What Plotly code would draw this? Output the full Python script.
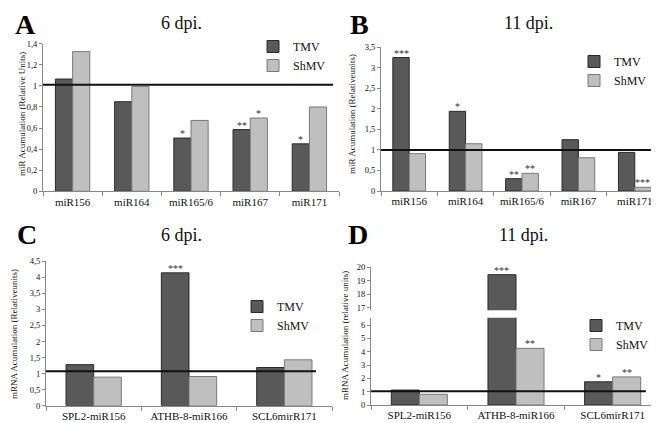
import plotly.graph_objects as go

# ---------------- data ----------------
mir_categories = ["miR156", "miR164", "miR165/6", "miR167", "miR171"]
mrna_categories = ["SPL2-miR156", "ATHB-8-miR166", "SCL6mirR171"]

a_tmv = [1.065, 0.85, 0.505, 0.585, 0.45]
a_shmv = [1.325, 0.995, 0.672, 0.695, 0.80]
a_tmv_sig = ["", "", "*", "**", "*"]
a_shmv_sig = ["", "", "", "*", ""]

b_tmv = [3.25, 1.94, 0.30, 1.25, 0.94]
b_shmv = [0.91, 1.15, 0.43, 0.81, 0.09]
b_tmv_sig = ["***", "*", "**", "", ""]
b_shmv_sig = ["", "", "**", "", "***"]

c_tmv = [1.28, 4.14, 1.19]
c_shmv = [0.89, 0.91, 1.43]
c_tmv_sig = ["", "***", ""]
c_shmv_sig = ["", "", ""]

d_tmv = [1.12, 19.45, 1.74]
d_shmv = [0.80, 4.25, 2.11]
d_tmv_sig = ["", "***", "*"]
d_shmv_sig = ["", "**", "**"]

ref_levels = [1.01, 1.0, 1.07, 1.04]

a_ticks = [0, 0.2, 0.4, 0.6, 0.8, 1.0, 1.2, 1.4]
a_ticktext = ["0", "0,2", "0,4", "0,6", "0,8", "1", "1,2", "1,4"]
b_ticks = [0, 0.5, 1, 1.5, 2, 2.5, 3, 3.5]
b_ticktext = ["0", "0,5", "1", "1,5", "2", "2,5", "3", "3,5"]
c_ticks = [0, 0.5, 1, 1.5, 2, 2.5, 3, 3.5, 4, 4.5]
c_ticktext = ["0", "0,5", "1", "1,5", "2", "2,5", "3", "3,5", "4", "4,5"]
d_low_ticks = [0, 1, 2, 3, 4, 5, 6]
d_high_ticks = [17, 18, 19, 20]

panel_letters = ["A", "B", "C", "D"]
panel_titles = ["6 dpi.", "11 dpi.", "6 dpi.", "11 dpi."]
y_titles = ["miR Acumulation (Relative Units)", "miR Acumulation (Relativeunits)",
            "mRNA Acumulation (Relativeunits)", "mRNA Acumulation (relative units)"]

# ---------------- style ----------------
W, H = 659, 423
FONT = "Liberation Serif"
DARK = "#595959"
LIGHT = "#bfbfbf"
AXC = "#868686"
BARGAP = 0.42


def px(x):
    return x / W


def py(y):
    return 1 - y / H


fig = go.Figure()


def add_pair(cats, tmv, shmv, xa, ya, legend, showlegend=True):
    fig.add_trace(go.Bar(
        x=cats, y=tmv, name="TMV", marker=dict(color=DARK, line=dict(color="#2a2a2a", width=1)),
        xaxis=xa, yaxis=ya, legend=legend, showlegend=showlegend))
    fig.add_trace(go.Bar(
        x=cats, y=shmv, name="ShMV", marker=dict(color=LIGHT, line=dict(color="#7a7a7a", width=1)),
        xaxis=xa, yaxis=ya, legend=legend, showlegend=showlegend))


add_pair(mir_categories, a_tmv, a_shmv, "x", "y", "legend")
add_pair(mir_categories, b_tmv, b_shmv, "x2", "y2", "legend2")
add_pair(mrna_categories, c_tmv, c_shmv, "x3", "y3", "legend3")
add_pair(mrna_categories, d_tmv, d_shmv, "x4", "y4", "legend4")
add_pair(mrna_categories, d_tmv, d_shmv, "x5", "y5", "legend4", showlegend=False)

xbase = dict(type="category", showline=True, linecolor=AXC, linewidth=1, ticks="outside",
             tickson="boundaries", ticklen=4, tickcolor=AXC, showgrid=False, zeroline=False,
             tickfont=dict(family=FONT, size=11, color="#111111"), automargin=False)
ybase = dict(showline=True, linecolor=AXC, linewidth=1, ticks="outside", ticklen=3, tickcolor=AXC,
             showgrid=False, zeroline=False, tickfont=dict(family=FONT, size=8.5, color="#111111"),
             automargin=False)

x_domains = [(35, 331), (373, 655), (38, 324), (363, 653)]

fig.update_layout(
    width=W, height=H, margin=dict(l=0, r=0, t=0, b=0),
    paper_bgcolor="white", plot_bgcolor="white",
    barmode="group", bargap=BARGAP, bargroupgap=0,
    font=dict(family=FONT, color="#111111"),
    xaxis=dict(xbase, domain=[px(35), px(331)], anchor="y"),
    yaxis=dict(ybase, domain=[py(183.3), py(35.7)], anchor="x", range=[0, 1.4],
               tickvals=a_ticks, ticktext=a_ticktext),
    xaxis2=dict(xbase, domain=[px(373), px(655)], anchor="y2"),
    yaxis2=dict(ybase, domain=[py(183), py(39.3)], anchor="x2", range=[0, 3.5],
                tickvals=b_ticks, ticktext=b_ticktext),
    xaxis3=dict(xbase, domain=[px(38), px(324)], anchor="y3"),
    yaxis3=dict(ybase, domain=[py(397.7), py(253.3)], anchor="x3", range=[0, 4.5],
                tickvals=c_ticks, ticktext=c_ticktext),
    xaxis4=dict(xbase, domain=[px(363), px(653)], anchor="y4"),
    yaxis4=dict(ybase, domain=[py(397), py(309.7)], anchor="x4", range=[0, 6.55],
                tickvals=d_low_ticks),
    xaxis5=dict(type="category", domain=[px(363), px(653)], anchor="y5", matches="x4",
                showline=False, showticklabels=False, ticks="", showgrid=False, zeroline=False),
    yaxis5=dict(ybase, domain=[py(302.2), py(259.3)], anchor="x5", range=[16.8, 20],
                tickvals=d_high_ticks),
)

leg = dict(font=dict(family=FONT, size=12, color="#111111"), bgcolor="rgba(0,0,0,0)",
           xanchor="left", yanchor="top", itemclick=False, tracegroupgap=0)
fig.update_layout(
    legend=dict(leg, x=px(245), y=py(24)),
    legend2=dict(leg, x=px(566), y=py(39)),
    legend3=dict(leg, x=px(229), y=py(284)),
    legend4=dict(leg, x=px(568), y=py(303)),
)

# significance stars, placed on top of each bar
panels = [
    (mir_categories, a_tmv, a_shmv, a_tmv_sig, a_shmv_sig, "x", "y", 0),
    (mir_categories, b_tmv, b_shmv, b_tmv_sig, b_shmv_sig, "x2", "y2", 1),
    (mrna_categories, c_tmv, c_shmv, c_tmv_sig, c_shmv_sig, "x3", "y3", 2),
]
d_low_top = 6.55


def add_stars(cats, vals, sigs, xa, ya, sign, half):
    for c, v, s in zip(cats, vals, sigs):
        if s:
            fig.add_annotation(x=c, y=v, xref=xa, yref=ya, text=s, showarrow=False,
                               xanchor="center", yanchor="bottom", xshift=sign * half, yshift=-3,
                               font=dict(family=FONT, size=10, color="#333333"))


for cats, tv, sv, ts, ss, xa, ya, i in panels:
    dom = x_domains[i]
    half = (dom[1] - dom[0]) / len(cats) * (1 - BARGAP) / 4
    add_stars(cats, tv, ts, xa, ya, -1, half)
    add_stars(cats, sv, ss, xa, ya, 1, half)

dom = x_domains[3]
half_d = (dom[1] - dom[0]) / len(mrna_categories) * (1 - BARGAP) / 4
for c, v, s in zip(mrna_categories, d_tmv, d_tmv_sig):
    if s:
        ya = "y4" if v < d_low_top else "y5"
        xa = "x4" if v < d_low_top else "x5"
        add_stars([c], [v], [s], xa, ya, -1, half_d)
add_stars(mrna_categories, d_shmv, d_shmv_sig, "x4", "y4", 1, half_d)

# reference lines
ref_axes = [("x", "y", 0.98), ("x2", "y2", 0.957), ("x3", "y3", 0.944), ("x4", "y4", 0.948)]
for (xa, ya, frac), lvl in zip(ref_axes, ref_levels):
    fig.add_shape(type="line", xref=f"{xa} domain", yref=ya, x0=0, x1=frac, y0=lvl, y1=lvl,
                  line=dict(color="#111111", width=2))

# panel letters, titles, y titles
letter_pos = [(17, 17), (351, 17), (19, 226), (350, 226)]
title_pos = [(173, 15), (520, 15), (173, 227), (515, 227)]
ytitle_pos = [(14, 106), (344, 106), (6, 326), (337, 328)]
for L, T, YT, lp, tp, yp in zip(panel_letters, panel_titles, y_titles, letter_pos, title_pos, ytitle_pos):
    fig.add_annotation(text=f"<b>{L}</b>", x=px(lp[0]), y=py(lp[1]), xref="paper", yref="paper",
                       showarrow=False, font=dict(family=FONT, size=28, color="#000000"),
                       xanchor="center", yanchor="middle")
    fig.add_annotation(text=T, x=px(tp[0]), y=py(tp[1]), xref="paper", yref="paper",
                       showarrow=False, font=dict(family=FONT, size=18, color="#111111"),
                       xanchor="center", yanchor="middle")
    fig.add_annotation(text=YT, x=px(yp[0]), y=py(yp[1]), xref="paper", yref="paper",
                       showarrow=False, textangle=-90, font=dict(family=FONT, size=9, color="#111111"),
                       xanchor="center", yanchor="middle")

fig.write_html("out.html")
